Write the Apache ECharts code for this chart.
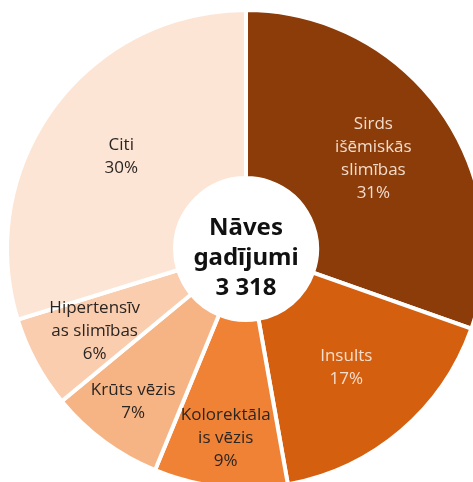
<!DOCTYPE html>
<html>
<head>
<meta charset="utf-8">
<script src="https://cdn.jsdelivr.net/npm/echarts@6/dist/echarts.min.js"></script>
<style>
  html, body { margin: 0; padding: 0; background: #fff; }
  #chart { width: 473px; height: 482px; }
</style>
</head>
<body>
<div id="chart"></div>
<script>
const categories = [
  "Sirds\nišēmiskās\nslimības",
  "Insults",
  "Kolorektāla\nis vēzis",
  "Krūts vēzis",
  "Hipertensīv\nas slimības",
  "Citi"
]
// deaths per cause (total 3 318)
const deaths = [1009, 557, 299, 259, 206, 988]
// shares as printed on the chart
const percentLabels = ["31%", "17%", "9%", "7%", "6%", "30%"]
const colors = ["#8b3c09", "#d35f0f", "#f08236", "#f6b484", "#f9cdae", "#fde5d5"]
const labelColors = ["#f2dccb", "#f6dfcd", "#2b2522", "#2b2522", "#2b2522", "#2b2522"]
const centerTitle = ["Nāves", "gadījumi"]
const total = "3 318"

// how far from the centre each label sits
const labelRadius = [156, 155, 190, 190, 172, 155]
const cx = 246, cy = 249

const chart = echarts.init(document.getElementById("chart"))

chart.setOption({
  animation: false,
  series: [
    {
      type: "pie",
      center: [cx, cy],
      radius: [71, 239],
      startAngle: 90,
      clockwise: true,
      avoidLabelOverlap: false,
      itemStyle: { borderColor: "#fff", borderWidth: 4 },
      label: {
        position: "inside",
        fontFamily: "Open Sans",
        fontSize: 17,
        lineHeight: 23,
        formatter: (p) => p.name + "\n" + percentLabels[p.dataIndex]
      },
      labelLine: { show: false },
      emphasis: { disabled: true },
      labelLayout: (p) => {
        const r = p.labelRect
        const lx = r.x + r.width / 2 - cx
        const ly = r.y + r.height / 2 - cy
        const d = Math.sqrt(lx * lx + ly * ly)
        const k = labelRadius[p.dataIndex] / d - 1
        return { dx: lx * k, dy: ly * k }
      },
      data: categories.map((name, i) => ({
        name: name,
        value: deaths[i],
        itemStyle: { color: colors[i] },
        label: { color: labelColors[i] }
      }))
    }
  ],
  graphic: [
    {
      type: "text",
      x: cx,
      y: cy + 9,
      style: {
        text: centerTitle.join("\n") + "\n" + total,
        align: "center",
        verticalAlign: "middle",
        fontFamily: "Noto Sans",
        fontWeight: "bold",
        fontSize: 24,
        lineHeight: 30,
        fill: "#111"
      }
    }
  ]
})
</script>
</body>
</html>
